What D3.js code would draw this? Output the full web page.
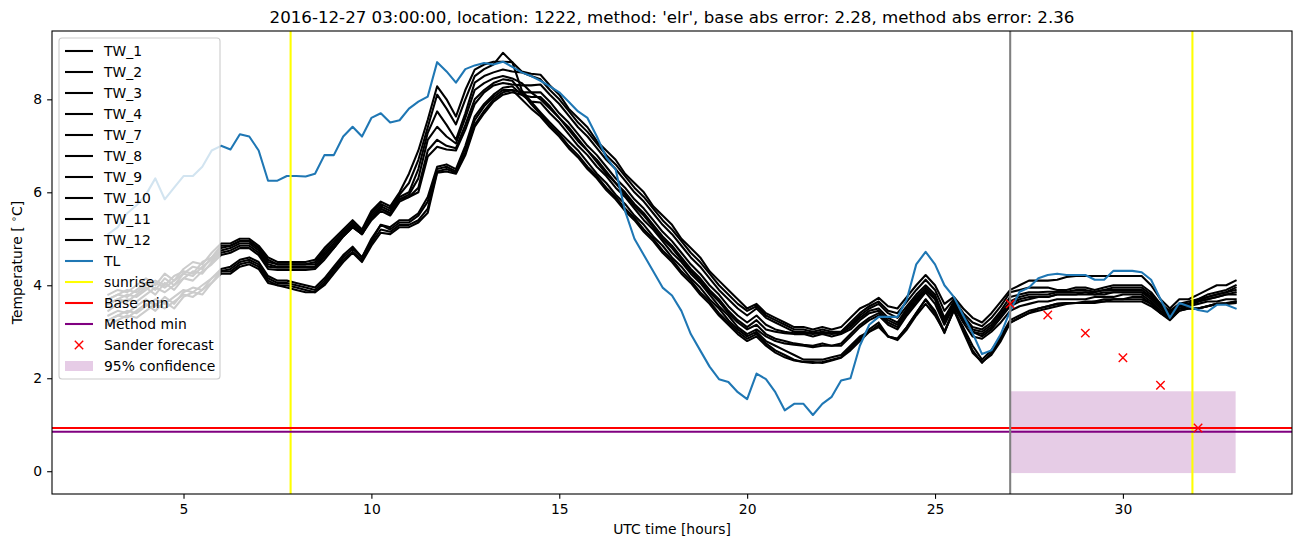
<!DOCTYPE html>
<html><head><meta charset="utf-8">
<script src="https://cdn.jsdelivr.net/npm/d3@7"></script>
<style>body{margin:0;background:#fff} text{font-family:"DejaVu Sans",sans-serif;fill:#000}</style>
</head><body><svg id="c" width="1302" height="547"></svg>
<script>
// ---------- data ----------
const hours = d3.range(121).map(i => 3 + i * 0.25);   // sampling times (UTC hours)
const xTicks = [5, 10, 15, 20, 25, 30];
const yTicks = [0, 2, 4, 6, 8];

const TW_1 = [3.8,3.9,3.85,4.0,4.15,4.0,4.25,4.1,4.35,4.5,4.45,4.7,4.9,
 4.9,5.0,5.0,4.85,4.6,4.5,4.5,4.5,4.5,4.55,
 4.8,5.0,5.2,5.4,5.2,5.6,5.8,5.7,6.0,6.4,
 6.9,7.56,8.28,8.0,7.63,8.2,8.64,8.75,8.81,8.81,8.8,8.6,8.55,8.53,
 8.3,8.1,7.8,7.6,7.4,7.1,6.9,6.7,6.4,6.2,6.0,5.7,5.5,5.3,5.0,4.8,4.6,4.3,4.1,3.9,3.7,3.5,3.6,3.4,3.3,3.2,
 3.1,3.1,3.05,3.1,3.05,3.1,3.3,3.5,3.6,3.73,3.55,3.5,3.75,4.0,4.22,4.0,3.6,3.75,3.5,3.3,3.2,3.4,3.65,3.9,
 4.0,4.1,4.1,4.1,4.12,4.18,4.2,4.2,4.2,4.2,4.2,4.2,4.2,4.2,4.0,3.7,3.5,3.7,3.7,3.8,3.9,4.0,4.0,4.1];
const TW_2 = [3.7,3.8,3.9,3.85,4.0,4.1,4.0,4.2,4.3,4.25,4.5,4.6,4.85,
 4.85,4.95,4.95,4.8,4.55,4.45,4.45,4.45,4.45,4.5,
 4.75,4.95,5.15,5.35,5.15,5.55,5.75,5.65,5.95,6.2,
 6.7,7.4,8.1,7.8,7.46,8.0,8.5,8.65,8.75,9.0,8.8,8.2,7.95,7.72,
 7.5,7.3,7.1,6.9,6.65,6.4,6.2,5.95,5.75,5.5,5.3,5.05,4.85,4.6,4.4,4.15,3.95,3.7,3.5,3.25,3.05,2.9,3.0,2.8,2.7,2.6,
 2.5,2.4,2.4,2.4,2.45,2.5,2.7,2.9,3.0,3.1,2.9,2.85,3.1,3.4,3.7,3.45,3.0,3.45,3.1,2.7,2.4,2.6,2.9,3.25,
 3.35,3.45,3.5,3.55,3.6,3.62,3.62,3.62,3.65,3.65,3.7,3.7,3.7,3.7,3.6,3.45,3.35,3.5,3.5,3.5,3.55,3.6,3.6,3.65];
const TW_3 = [3.7,3.8,3.75,3.9,4.05,3.9,4.15,4.0,4.25,4.4,4.35,4.6,4.8,
 4.85,4.95,4.95,4.8,4.5,4.45,4.45,4.45,4.45,4.45,
 4.7,4.9,5.15,5.3,5.15,5.5,5.7,5.6,5.9,6.0,
 6.5,7.28,7.74,7.45,7.13,7.7,8.36,8.5,8.58,8.64,8.6,8.58,8.5,8.43,
 8.2,8.0,7.75,7.5,7.3,7.05,6.8,6.6,6.35,6.1,5.9,5.65,5.4,5.2,4.95,4.7,4.5,4.25,4.0,3.8,3.6,3.45,3.55,3.35,3.25,3.15,
 3.05,3.05,3.0,3.05,3.0,3.0,3.2,3.4,3.55,3.65,3.45,3.4,3.65,3.9,4.12,3.9,3.45,3.7,3.4,3.2,3.12,3.3,3.55,3.85,
 3.9,3.95,3.95,3.95,3.9,3.9,3.95,3.95,3.9,3.95,4.0,4.0,4.0,4.0,3.85,3.6,3.45,3.6,3.6,3.7,3.8,3.85,3.9,4.0];
const TW_4 = [3.6,3.7,3.8,3.75,3.9,4.05,3.95,4.1,4.25,4.2,4.4,4.55,4.75,
 4.8,4.9,4.9,4.75,4.45,4.4,4.4,4.4,4.4,4.4,
 4.65,4.85,5.1,5.3,5.1,5.45,5.65,5.55,5.85,5.95,
 6.3,7.13,7.41,7.2,7.05,7.6,8.2,8.35,8.45,8.5,8.45,8.35,8.15,8.0,
 7.8,7.6,7.35,7.1,6.9,6.65,6.4,6.2,5.95,5.7,5.5,5.25,5.0,4.8,4.55,4.3,4.1,3.85,3.65,3.4,3.2,3.05,3.15,2.95,2.85,2.8,
 2.75,2.72,2.7,2.75,2.7,2.75,2.95,3.15,3.3,3.4,3.2,3.1,3.4,3.65,3.9,3.7,3.2,3.6,3.3,3.0,2.9,3.05,3.3,3.55,
 3.65,3.7,3.75,3.75,3.8,3.8,3.8,3.85,3.8,3.85,3.85,3.85,3.85,3.85,3.75,3.55,3.35,3.55,3.55,3.65,3.7,3.75,3.8,3.85];
const TW_7 = [3.6,3.7,3.65,3.8,3.95,3.8,4.05,3.9,4.15,4.3,4.25,4.5,4.7,
 4.75,4.85,4.85,4.7,4.4,4.38,4.38,4.38,4.38,4.38,
 4.6,4.8,5.05,5.25,5.1,5.45,5.65,5.55,5.85,5.9,
 6.1,6.9,7.13,7.0,6.95,7.45,8.0,8.2,8.35,8.43,8.4,8.15,7.9,7.68,
 7.45,7.25,7.0,6.8,6.55,6.35,6.1,5.9,5.65,5.45,5.2,5.0,4.75,4.55,4.3,4.1,3.85,3.65,3.4,3.2,3.0,2.85,2.95,2.75,2.6,2.5,
 2.4,2.35,2.33,2.35,2.4,2.45,2.65,2.85,3.05,3.2,2.9,2.85,3.1,3.4,3.69,3.4,2.97,3.5,3.05,2.6,2.33,2.55,2.85,3.2,
 3.3,3.4,3.5,3.55,3.6,3.62,3.62,3.65,3.65,3.7,3.7,3.7,3.75,3.75,3.6,3.4,3.25,3.45,3.5,3.5,3.55,3.6,3.6,3.62];
const TW_8 = [3.45,3.6,3.7,3.65,3.8,3.95,3.85,4.0,4.15,4.1,4.3,4.45,4.65,
 4.7,4.8,4.8,4.65,4.35,4.33,4.33,4.33,4.33,4.35,
 4.55,4.8,5.05,5.25,5.1,5.4,5.6,5.5,5.8,5.9,
 6.0,6.77,6.98,6.92,6.9,7.35,7.9,8.15,8.3,8.35,8.32,8.3,8.3,8.32,
 8.1,7.9,7.65,7.4,7.2,6.95,6.7,6.5,6.25,6.0,5.8,5.55,5.3,5.1,4.85,4.6,4.4,4.15,3.9,3.7,3.5,3.35,3.5,3.3,3.2,3.1,
 3.0,3.0,2.97,3.0,2.97,3.0,3.15,3.35,3.5,3.6,3.4,3.3,3.55,3.8,4.0,3.8,3.3,3.65,3.35,3.1,3.05,3.2,3.45,3.75,
 3.8,3.85,3.85,3.86,3.86,3.86,3.9,3.9,3.86,3.9,3.95,3.95,3.95,3.95,3.8,3.6,3.4,3.6,3.6,3.65,3.75,3.8,3.85,3.95];
const TW_9 = [3.35,3.45,3.4,3.55,3.7,3.55,3.75,3.6,3.85,3.95,3.9,4.15,4.35,
 4.4,4.55,4.6,4.5,4.2,4.1,4.1,4.05,4.0,3.95,
 4.15,4.4,4.65,4.83,4.6,5.0,5.3,5.25,5.4,5.4,
 5.55,5.9,6.55,6.6,6.5,7.0,7.63,7.9,8.1,8.25,8.28,8.1,7.95,7.93,
 7.7,7.5,7.25,7.0,6.8,6.55,6.35,6.1,5.9,5.65,5.4,5.2,4.95,4.7,4.5,4.25,4.05,3.8,3.55,3.35,3.1,2.95,3.05,2.9,2.8,2.75,
 2.72,2.7,2.67,2.7,2.7,2.7,2.9,3.1,3.25,3.35,3.15,3.05,3.35,3.6,3.85,3.6,3.15,3.55,3.2,2.9,2.85,3.0,3.2,3.45,
 3.55,3.6,3.65,3.65,3.7,3.7,3.7,3.7,3.75,3.75,3.75,3.8,3.8,3.8,3.65,3.45,3.3,3.5,3.55,3.6,3.65,3.65,3.7,3.7];
const TW_10 = [3.25,3.35,3.45,3.4,3.55,3.7,3.6,3.75,3.9,3.85,4.0,4.15,4.3,
 4.35,4.5,4.55,4.45,4.15,4.05,4.05,4.0,3.95,3.9,
 4.1,4.35,4.6,4.78,4.6,4.95,5.3,5.2,5.35,5.35,
 5.5,5.8,6.5,6.55,6.45,6.95,7.55,7.85,8.05,8.2,8.2,8.15,8.15,8.15,
 7.95,7.7,7.5,7.25,7.0,6.8,6.55,6.3,6.1,5.85,5.65,5.4,5.15,4.95,4.7,4.45,4.25,4.0,3.8,3.55,3.35,3.2,3.35,3.15,3.05,3.0,
 2.97,2.97,2.95,2.97,2.95,2.97,3.1,3.3,3.45,3.5,3.3,3.2,3.5,3.75,3.95,3.75,3.25,3.6,3.3,3.05,3.0,3.15,3.4,3.65,
 3.75,3.8,3.8,3.8,3.85,3.85,3.85,3.85,3.85,3.9,3.9,3.9,3.9,3.9,3.75,3.55,3.4,3.6,3.65,3.7,3.75,3.8,3.85,3.9];
const TW_11 = [3.25,3.35,3.3,3.45,3.6,3.45,3.65,3.5,3.75,3.85,3.8,4.05,4.3,
 4.3,4.45,4.5,4.4,4.1,4.0,4.0,3.95,3.9,3.85,
 4.05,4.3,4.55,4.72,4.55,4.9,5.2,5.15,5.3,5.3,
 5.4,5.65,6.45,6.5,6.42,6.85,7.45,7.75,8.0,8.15,8.2,8.0,7.8,7.63,
 7.4,7.2,6.95,6.75,6.5,6.3,6.05,5.85,5.6,5.4,5.15,4.95,4.7,4.5,4.25,4.05,3.8,3.6,3.35,3.15,2.95,2.8,2.9,2.7,2.55,2.45,
 2.38,2.35,2.35,2.33,2.38,2.44,2.6,2.8,3.0,3.15,2.9,2.82,3.05,3.35,3.6,3.35,3.0,3.47,3.0,2.55,2.35,2.5,2.8,3.19,
 3.3,3.4,3.45,3.5,3.55,3.6,3.62,3.62,3.62,3.65,3.65,3.65,3.65,3.65,3.55,3.4,3.28,3.45,3.5,3.5,3.55,3.6,3.62,3.65];
const TW_12 = [3.15,3.25,3.35,3.3,3.45,3.6,3.5,3.65,3.8,3.75,3.9,4.05,4.25,
 4.25,4.4,4.45,4.35,4.05,4.0,3.95,3.9,3.85,3.85,
 4.0,4.25,4.5,4.7,4.5,4.85,5.13,5.1,5.25,5.25,
 5.35,5.56,6.42,6.45,6.4,6.8,7.41,7.7,7.95,8.1,8.15,8.1,8.05,8.05,
 7.85,7.6,7.4,7.15,6.9,6.7,6.45,6.2,6.0,5.75,5.55,5.3,5.05,4.85,4.6,4.35,4.15,3.9,3.7,3.45,3.25,3.1,3.25,3.05,3.0,2.97,
 2.95,2.95,2.9,2.95,2.9,2.95,3.05,3.25,3.4,3.45,3.25,3.15,3.45,3.7,3.9,3.7,3.2,3.55,3.25,3.0,2.95,3.1,3.35,3.6,
 3.7,3.75,3.75,3.75,3.8,3.8,3.8,3.8,3.8,3.8,3.85,3.85,3.85,3.85,3.7,3.5,3.35,3.55,3.6,3.65,3.7,3.75,3.8,3.8];
const TL = [5.1,5.25,5.55,5.72,5.95,6.3,5.85,6.1,6.35,6.35,6.55,6.9,7.0,
 6.92,7.25,7.2,6.9,6.25,6.25,6.35,6.35,6.34,6.4,
 6.8,6.8,7.2,7.41,7.2,7.6,7.7,7.5,7.55,7.8,
 7.95,8.06,8.8,8.6,8.36,8.65,8.73,8.78,8.75,8.81,8.7,8.58,8.5,8.4,
 8.28,8.15,7.95,7.74,7.6,7.2,6.75,6.49,5.6,5.0,4.65,4.3,3.95,3.78,3.45,2.95,2.6,2.25,1.98,1.92,1.7,1.55,2.1,1.98,1.7,1.31,
 1.45,1.45,1.21,1.45,1.6,1.95,2.0,2.7,3.15,3.32,3.32,3.32,3.7,4.45,4.72,4.45,4.0,3.75,3.35,2.97,2.52,2.6,2.95,3.45,
 3.86,3.95,4.15,4.22,4.25,4.22,4.22,4.22,4.12,4.12,4.31,4.31,4.31,4.28,4.12,3.7,3.3,3.62,3.55,3.47,3.43,3.58,3.58,3.5];

const twNames = ["TW_1","TW_2","TW_3","TW_4","TW_7","TW_8","TW_9","TW_10","TW_11","TW_12"];
const twSeries = [TW_1,TW_2,TW_3,TW_4,TW_7,TW_8,TW_9,TW_10,TW_11,TW_12];
const sunrise = [7.85, 31.85];
const forecastStart = [27];
const baseMin = [0.93];
const methodMin = [0.85];
const sanderHours = [27, 28, 29, 30, 31, 32];
const sanderValues = [3.6, 3.36, 2.97, 2.44, 1.85, 0.93];
const confHours = [27, 33];
const confLow = [-0.04];
const confHigh = [1.72];
const titleText = "2016-12-27 03:00:00, location: 1222, method: 'elr', base abs error: 2.28, method abs error: 2.36";

// ---------- layout ----------
const L = 52, R = 1292, T = 31, B = 494;
const FS = 13.9;
const svg = d3.select("#c");
const x = d3.scaleLinear().domain([1.5, 34.5]).range([L, R]);
const y = d3.scaleLinear().domain([-0.49, 9.47]).range([B, T]);

svg.append("defs").append("clipPath").attr("id","clip")
  .append("rect").attr("x",L).attr("y",T).attr("width",R-L).attr("height",B-T);
const g = svg.append("g").attr("clip-path","url(#clip)");

// confidence fill (drawn beneath lines)
g.append("rect")
  .attr("x", x(confHours[0])).attr("width", x(confHours[1]) - x(confHours[0]))
  .attr("y", y(confHigh[0])).attr("height", y(confLow[0]) - y(confHigh[0]))
  .attr("fill","purple").attr("fill-opacity",0.2);

const line = d3.line().x((d,i)=>x(hours[i])).y(d=>y(d));
twSeries.forEach(s => {
  g.append("path").datum(s).attr("d", line).attr("fill","none")
    .attr("stroke","#000").attr("stroke-width",2.08).attr("stroke-linejoin","round").attr("stroke-linecap","square");
});
g.append("path").datum(TL).attr("d", line).attr("fill","none")
  .attr("stroke","#1f77b4").attr("stroke-width",2.08).attr("stroke-linejoin","round").attr("stroke-linecap","square");

sunrise.forEach(h => g.append("line").attr("x1",x(h)).attr("x2",x(h)).attr("y1",T).attr("y2",B)
  .attr("stroke","#ffff00").attr("stroke-width",2.08));
baseMin.forEach(v => g.append("line").attr("x1",L).attr("x2",R).attr("y1",y(v)).attr("y2",y(v))
  .attr("stroke","red").attr("stroke-width",2.08));
methodMin.forEach(v => g.append("line").attr("x1",L).attr("x2",R).attr("y1",y(v)).attr("y2",y(v))
  .attr("stroke","purple").attr("stroke-width",2.08));
forecastStart.forEach(h => g.append("line").attr("x1",x(h)).attr("x2",x(h)).attr("y1",T).attr("y2",B)
  .attr("stroke","grey").attr("stroke-width",2.08));

function xMark(sel, cx, cy, r) {
  sel.append("path").attr("d", `M${cx-r},${cy-r}L${cx+r},${cy+r}M${cx-r},${cy+r}L${cx+r},${cy-r}`)
    .attr("stroke","red").attr("stroke-width",1.4).attr("fill","none");
}
sanderHours.forEach((h,i) => xMark(g, x(h), y(sanderValues[i]), 4.2));

// axes
const xAxis = d3.axisBottom(x).tickValues(xTicks).tickSize(4.86).tickPadding(5).tickFormat(d3.format("d"));
const yAxis = d3.axisLeft(y).tickValues(yTicks).tickSize(4.86).tickPadding(5).tickFormat(d3.format("d"));
const gx = svg.append("g").attr("transform",`translate(0,${B})`).call(xAxis);
const gy = svg.append("g").attr("transform",`translate(${L},0)`).call(yAxis);
[gx, gy].forEach(a => {
  a.select(".domain").remove();
  a.selectAll("line").attr("stroke","#000").attr("stroke-width",1.1);
  a.selectAll("text").attr("font-size",FS).attr("font-family","DejaVu Sans").attr("fill","#000");
});
svg.append("rect").attr("x",L).attr("y",T).attr("width",R-L).attr("height",B-T)
  .attr("fill","none").attr("stroke","#000").attr("stroke-width",1.1);

// labels
svg.append("text").attr("x",(L+R)/2).attr("y",23).attr("text-anchor","middle")
  .attr("font-size",16.67).text(titleText);
svg.append("text").attr("x",(L+R)/2).attr("y",534).attr("text-anchor","middle")
  .attr("font-size",FS).text("UTC time [hours]");
const yl = svg.append("text").attr("transform",`translate(22,${(T+B)/2}) rotate(-90)`)
  .attr("text-anchor","middle").attr("font-size",FS);
yl.append("tspan").text("Temperature [ ");
yl.append("tspan").attr("font-size",FS*0.7).attr("dy",-5).text("∘");
yl.append("tspan").attr("dy",5).text("C]");

// legend
const lg = svg.append("g");
const entries = twNames.map(n => ({label:n, type:"line", color:"#000"}))
  .concat([{label:"TL",type:"line",color:"#1f77b4"},
           {label:"sunrise",type:"line",color:"#ffff00"},
           {label:"Base min",type:"line",color:"red"},
           {label:"Method min",type:"line",color:"purple"},
           {label:"Sander forecast",type:"x",color:"red"},
           {label:"95% confidence",type:"patch",color:"purple"}]);
lg.append("rect").attr("x",59).attr("y",38).attr("width",161).attr("height",341)
  .attr("rx",3).attr("fill","#fff").attr("fill-opacity",0.8).attr("stroke","#ccc").attr("stroke-width",1.1);
entries.forEach((e,k) => {
  const cy = 51 + 21*k;
  if (e.type === "line") {
    lg.append("line").attr("x1",65).attr("x2",93).attr("y1",cy).attr("y2",cy)
      .attr("stroke",e.color).attr("stroke-width",2.08);
  } else if (e.type === "x") {
    xMark(lg, 79, cy, 4.2);
  } else {
    lg.append("rect").attr("x",65).attr("y",cy-5).attr("width",28).attr("height",10)
      .attr("fill",e.color).attr("fill-opacity",0.2);
  }
  lg.append("text").attr("x",104).attr("y",cy).attr("dy","0.35em").attr("font-size",FS).text(e.label);
});
</script></body></html>
